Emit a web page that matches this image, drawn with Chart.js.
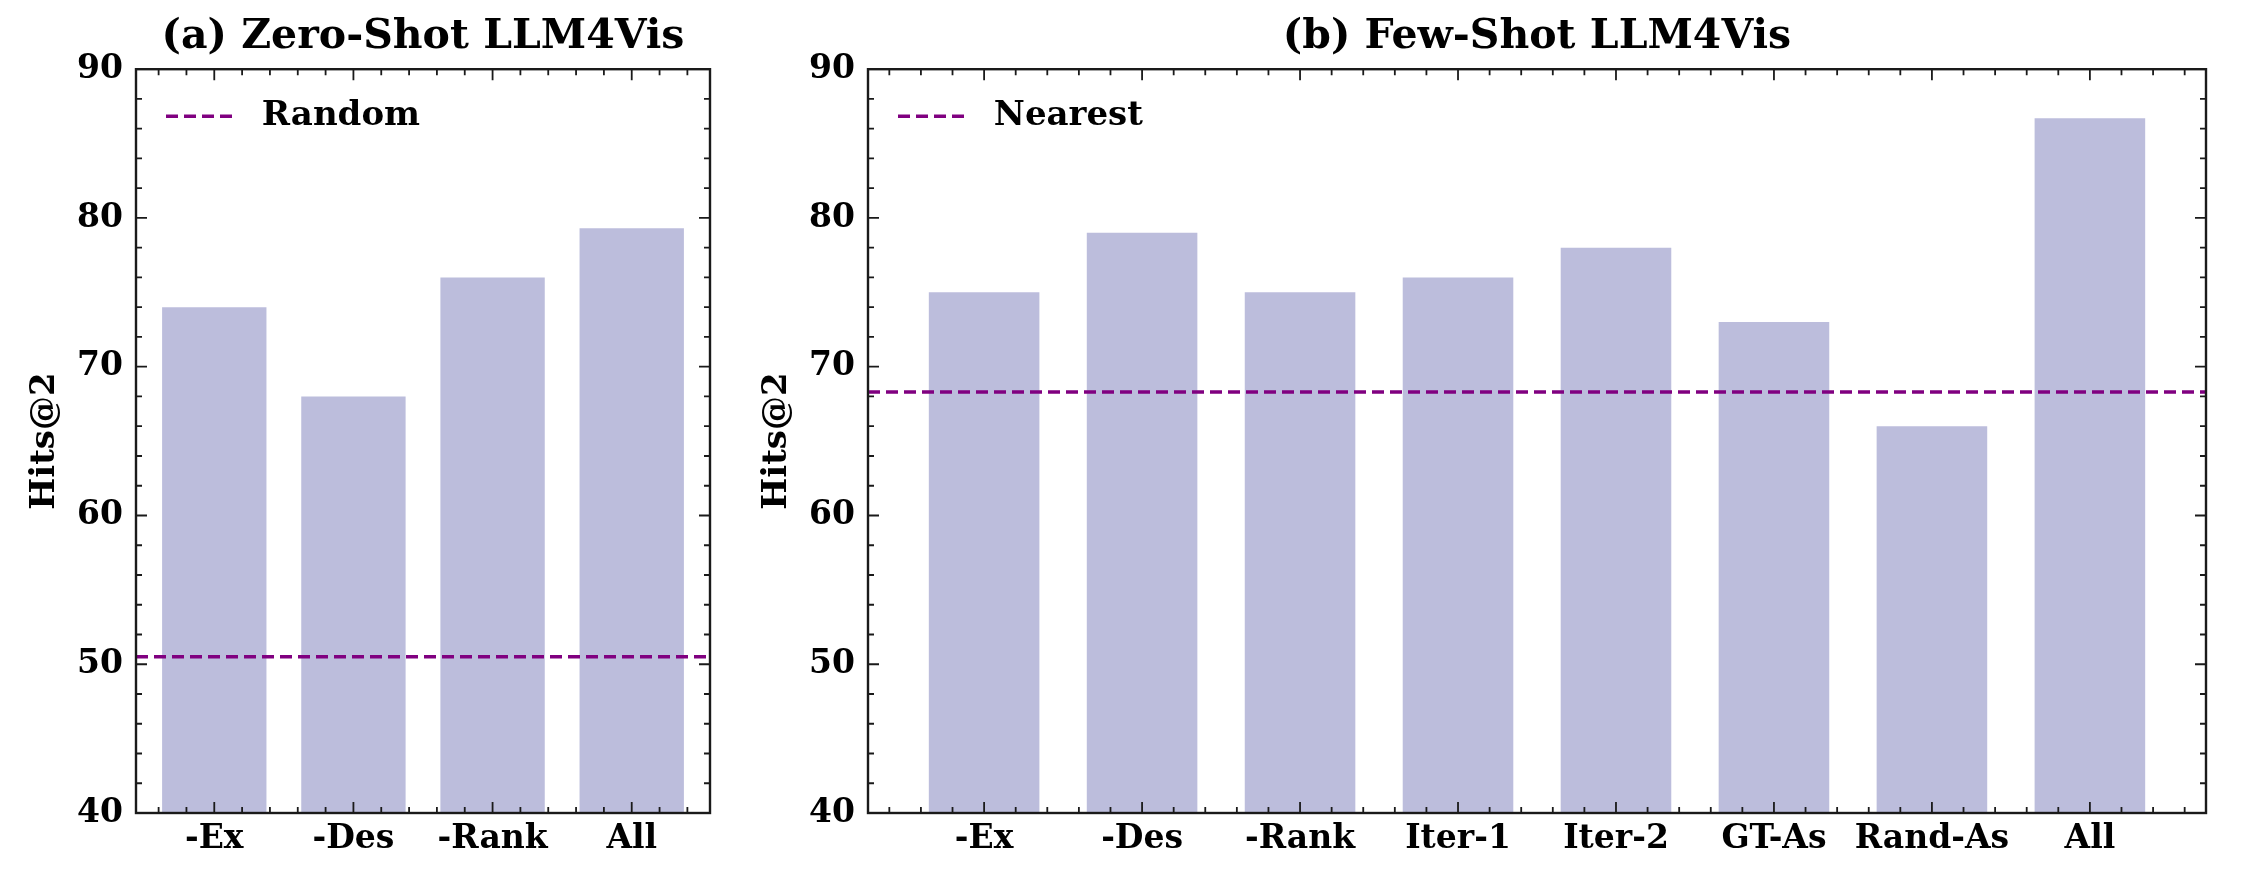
<!DOCTYPE html>
<html>
<head>
<meta charset="utf-8">
<title>LLM4Vis ablation — Hits@2</title>
<script src="https://cdn.jsdelivr.net/npm/chart.js@4.4.1/dist/chart.umd.min.js"></script>
<style>
  html, body { margin: 0; padding: 0; background: #fff; overflow: hidden; }
  #page { position: relative; width: 2242px; height: 888px; overflow: hidden; background: #fff; }
  .panel { position: absolute; top: 0; height: 888px; }
  #panelA { left: 0; width: 720px; }
  #panelB { left: 732px; width: 1484px; }
</style>
</head>
<body>
<div id="page">
  <div class="panel" id="panelA"><canvas id="chartA" width="720" height="888"></canvas></div>
  <div class="panel" id="panelB"><canvas id="chartB" width="1484" height="888"></canvas></div>
</div>
<script>
// ── DATA ──
const ZERO_LABELS = ['-Ex', '-Des', '-Rank', 'All'];
const ZERO_HITS   = [74, 68, 76, 79.3];
const ZERO_RANDOM = 50.5;

const FEW_LABELS  = ['-Ex', '-Des', '-Rank', 'Iter-1', 'Iter-2', 'GT-As', 'Rand-As', 'All'];
const FEW_HITS    = [75, 79, 75, 76, 78, 73, 66, 86.7];
const FEW_NEAREST = 68.3;

const Y_TICKS = [40, 50, 60, 70, 80, 90];

// ── STYLE ──
const BAR_COLOR  = '#bcbddc';
const LINE_COLOR = '#800080';
const AXIS_COLOR = '#1a1a1a';
const LINE_DASH  = [12, 6];

Chart.defaults.font.family = "'DejaVu Serif', serif";
Chart.defaults.font.weight = 'bold';
Chart.defaults.color = '#000';

// frame + inward major/minor ticks on all four sides (matplotlib "science" look)
const frameTicks = {
  id: 'frameTicks',
  afterLayout(chart) {
    // chartArea legends get their top reset to 0 — pin it to the plot area
    const lg = chart.legend;
    if (lg) { const h = lg.height; lg.top = chart.chartArea.top; lg.bottom = lg.top + h; }
  },
  afterDatasetsDraw(chart) {
    const { ctx, chartArea: a, scales: { x, y } } = chart;
    ctx.save();
    ctx.strokeStyle = AXIS_COLOR;
    ctx.lineWidth = 1.8;
    ctx.beginPath();
    const yStep = (Y_TICKS[1] - Y_TICKS[0]) / 5;
    for (let k = 0; y.min + k * yStep <= y.max + 1e-9; k++) {
      const p = y.getPixelForValue(y.min + k * yStep);
      const len = k % 5 === 0 ? 11 : 6;
      ctx.moveTo(a.left, p);  ctx.lineTo(a.left + len, p);
      ctx.moveTo(a.right, p); ctx.lineTo(a.right - len, p);
    }
    const kFrom = Math.ceil(x.min / 0.2 - 1e-9), kTo = Math.floor(x.max / 0.2 + 1e-9);
    for (let k = kFrom; k <= kTo; k++) {
      const p = x.getPixelForValue(k * 0.2);
      const len = k % 5 === 0 ? 11 : 6;
      ctx.moveTo(p, a.bottom); ctx.lineTo(p, a.bottom - len);
      ctx.moveTo(p, a.top);    ctx.lineTo(p, a.top + len);
    }
    ctx.stroke();
    ctx.lineWidth = 2.4;
    ctx.strokeRect(a.left, a.top, a.right - a.left, a.bottom - a.top);
    ctx.restore();
  }
};

function makePanel(id, title, labels, values, refName, refValue, barWidth) {
  const n = labels.length;
  const margin = 0.05 * (n - 1 + barWidth);          // matplotlib default x margin
  const xMin = -barWidth / 2 - margin;
  const xMax = n - 1 + barWidth / 2 + margin;

  return new Chart(document.getElementById(id), {
    type: 'bar',
    data: {
      datasets: [
        {
          type: 'bar', label: 'Hits@2', order: 2,
          data: values.map((v, i) => ({ x: i, y: v })),
          backgroundColor: BAR_COLOR, borderWidth: 0,
          categoryPercentage: 1, barPercentage: barWidth
        },
        {
          type: 'line', label: refName, order: 1,
          data: [{ x: xMin, y: refValue }, { x: xMax, y: refValue }],
          borderColor: LINE_COLOR, borderWidth: 3.5, borderDash: LINE_DASH,
          pointRadius: 0, fill: false
        }
      ]
    },
    options: {
      responsive: false,
      animation: false,
      events: [],
      layout: { padding: { left: 0, right: 10, top: 0, bottom: 0 } },
      scales: {
        x: {
          type: 'linear', min: xMin, max: xMax, offset: false,
          afterBuildTicks: s => { s.ticks = labels.map((_, i) => ({ value: i })); },
          afterFit: s => { s.height = 75; },
          ticks: { autoSkip: false, maxRotation: 0, padding: 7, font: { size: 33 }, callback: v => labels[v] },
          grid: { display: false, drawTicks: false },
          border: { display: false }
        },
        y: {
          min: Y_TICKS[0], max: Y_TICKS[Y_TICKS.length - 1],
          afterBuildTicks: s => { s.ticks = Y_TICKS.map(v => ({ value: v })); },
          afterFit: s => { s.width = 136; },
          ticks: { padding: 13, font: { size: 33 } },
          grid: { display: false, drawTicks: false },
          border: { display: false },
          title: { display: true, text: 'Hits@2', font: { size: 34 }, padding: { top: 25 } }
        }
      },
      plugins: {
        title: { display: true, text: title, fullSize: false, font: { size: 41 }, padding: { top: 13, bottom: 7 } },
        legend: {
          position: 'chartArea', align: 'start',
          labels: {
            usePointStyle: true, pointStyle: 'line', pointStyleWidth: 67,
            padding: 30, font: { size: 34, lineHeight: 1 },
            generateLabels: chart => chart.data.datasets
              .map((ds, i) => ({ ds, i }))
              .filter(({ ds }) => ds.type === 'line')
              .map(({ ds, i }) => ({
                text: ' ' + ds.label, datasetIndex: i, hidden: false,
                fillStyle: 'rgba(0,0,0,0)', strokeStyle: ds.borderColor, fontColor: '#000',
                lineWidth: ds.borderWidth, lineDash: ds.borderDash, lineCap: 'butt',
                pointStyle: 'line'
              }))
          }
        },
        tooltip: { enabled: false }
      }
    },
    plugins: [frameTicks]
  });
}

makePanel('chartA', '(a) Zero-Shot LLM4Vis', ZERO_LABELS, ZERO_HITS, 'Random', ZERO_RANDOM, 0.75);
makePanel('chartB', '(b) Few-Shot LLM4Vis', FEW_LABELS, FEW_HITS, 'Nearest', FEW_NEAREST, 0.7);
</script>
</body>
</html>
